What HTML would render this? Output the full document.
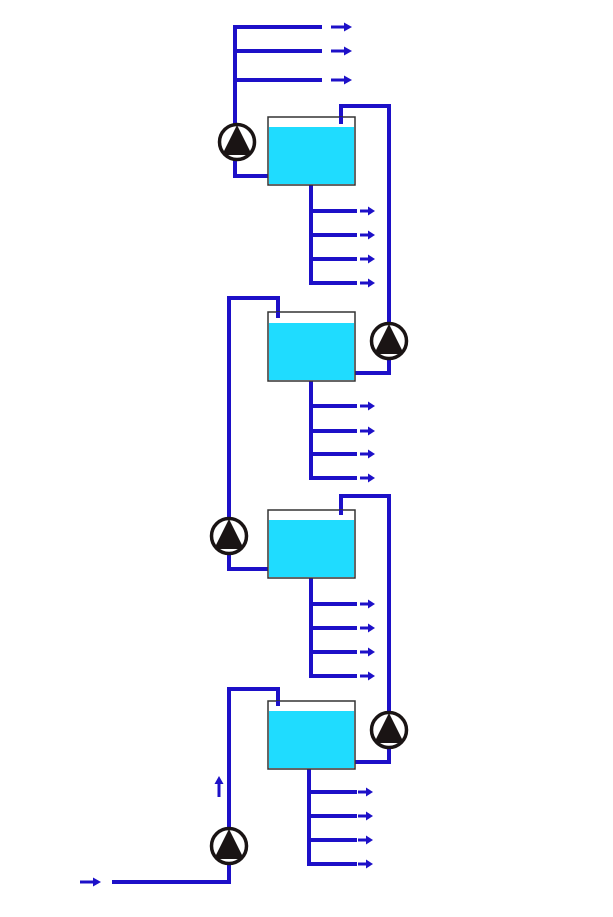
<!DOCTYPE html>
<html><head><style>html,body{margin:0;padding:0;background:#fff}svg{display:block}</style></head>
<body>
<svg width="613" height="917" xmlns="http://www.w3.org/2000/svg">
<defs>
<g id="pump">
<circle r="17.5" fill="#fff" stroke="#1a1414" stroke-width="3.5"/>
<polygon points="0,-17 -14,11 14,11" fill="#1a1414"/>
<rect x="-14" y="10" width="28" height="3" fill="#1a1414"/>
</g>
<g id="arr"><line x1="0" y1="0" x2="10" y2="0" stroke="#1d10c8" stroke-width="3"/><polygon points="8,-4.5 15,0 8,4.5" fill="#1d10c8"/></g>
<g id="arr2"><line x1="0" y1="0" x2="14" y2="0" stroke="#1d10c8" stroke-width="3"/><polygon points="13,-4.5 21,0 13,4.5" fill="#1d10c8"/></g>
</defs>
<g fill="none" stroke="#1d10c8" stroke-width="4">
<polyline points="322,27 235,27 235,176 268,176"/>
<line x1="235" y1="51" x2="322" y2="51"/>
<line x1="235" y1="80" x2="322" y2="80"/>
<polyline points="341,124 341,106 389,106 389,373 355,373"/>
<polyline points="311,185 311,283 357,283"/>
<line x1="311" y1="211" x2="357" y2="211"/><line x1="311" y1="235" x2="357" y2="235"/><line x1="311" y1="259" x2="357" y2="259"/>
<polyline points="278,318 278,298 229,298 229,569 268,569"/>
<polyline points="311,381 311,478 357,478"/>
<line x1="311" y1="406" x2="357" y2="406"/><line x1="311" y1="431" x2="357" y2="431"/><line x1="311" y1="454" x2="357" y2="454"/>
<polyline points="341,515 341,496 389,496 389,762 355,762"/>
<polyline points="311,578 311,676 357,676"/>
<line x1="311" y1="604" x2="357" y2="604"/><line x1="311" y1="628" x2="357" y2="628"/><line x1="311" y1="652" x2="357" y2="652"/>
<polyline points="278,706 278,689 229,689 229,882 112,882"/>
<polyline points="309,769 309,864 357,864"/>
<line x1="309" y1="792" x2="357" y2="792"/><line x1="309" y1="816" x2="357" y2="816"/><line x1="309" y1="840" x2="357" y2="840"/>
</g>
<g stroke="#333" stroke-width="1.5">
<rect x="268" y="117" width="87" height="68" fill="#fff"/><rect x="269" y="127" width="85" height="57" fill="#1fdcff" stroke="none"/>
<rect x="268" y="312" width="87" height="69" fill="#fff"/><rect x="269" y="323" width="85" height="57" fill="#1fdcff" stroke="none"/>
<rect x="268" y="510" width="87" height="68" fill="#fff"/><rect x="269" y="520" width="85" height="57" fill="#1fdcff" stroke="none"/>
<rect x="268" y="701" width="87" height="68" fill="#fff"/><rect x="269" y="711" width="85" height="57" fill="#1fdcff" stroke="none"/>
</g>
<g stroke="#1d10c8" stroke-width="4">
<line x1="341" y1="117" x2="341" y2="124"/><line x1="278" y1="312" x2="278" y2="318"/><line x1="341" y1="510" x2="341" y2="515"/><line x1="278" y1="701" x2="278" y2="706"/>
</g>
<use href="#pump" x="237" y="142"/>
<use href="#pump" x="389" y="341"/>
<use href="#pump" x="229" y="536"/>
<use href="#pump" x="389" y="730"/>
<use href="#pump" x="229" y="846"/>
<use href="#arr2" x="331" y="27"/><use href="#arr2" x="331" y="51"/><use href="#arr2" x="331" y="80"/>
<use href="#arr" x="360" y="211"/><use href="#arr" x="360" y="235"/><use href="#arr" x="360" y="259"/><use href="#arr" x="360" y="283"/>
<use href="#arr" x="360" y="406"/><use href="#arr" x="360" y="431"/><use href="#arr" x="360" y="454"/><use href="#arr" x="360" y="478"/>
<use href="#arr" x="360" y="604"/><use href="#arr" x="360" y="628"/><use href="#arr" x="360" y="652"/><use href="#arr" x="360" y="676"/>
<use href="#arr" x="358" y="792"/><use href="#arr" x="358" y="816"/><use href="#arr" x="358" y="840"/><use href="#arr" x="358" y="864"/>
<use href="#arr2" x="80" y="882"/>
<g transform="translate(219,797) rotate(-90)"><use href="#arr2"/></g>
</svg>
</body></html>
